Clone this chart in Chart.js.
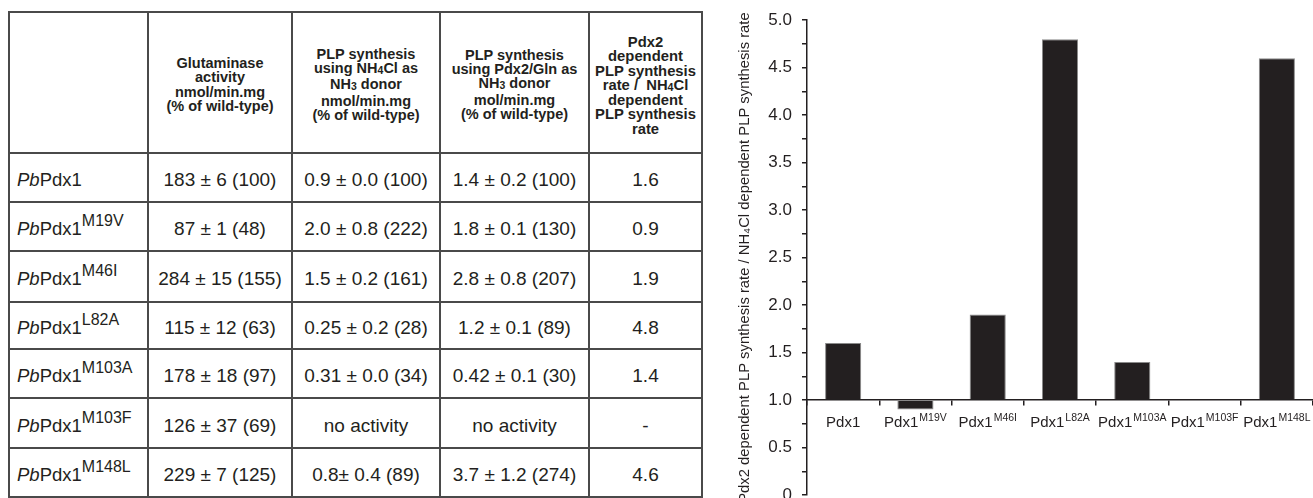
<!DOCTYPE html>
<html>
<head>
<meta charset="utf-8">
<script src="https://cdn.jsdelivr.net/npm/chart.js@4.4.1/dist/chart.umd.min.js"></script>
<style>
  html, body { margin: 0; padding: 0; width: 1313px; height: 498px; overflow: hidden; background: #fff; }
  body { position: relative; font-family: "Liberation Sans", Arial, Helvetica, sans-serif; color: #231f20; }
  .line { position: absolute; background: #4a4a4a; }
  .cell { position: absolute; box-sizing: border-box; display: flex; align-items: center; justify-content: center; text-align: center; }
  .head { font-weight: bold; font-size: 14.5px; line-height: 14.3px; white-space: nowrap; padding-top: 4px; }
  .head.wide { font-size: 14.8px; padding-top: 6px; }
  .data { font-size: 19px; padding-top: 5px; white-space: nowrap; }
  .name { justify-content: flex-start; padding-left: 8px; font-size: 18.5px; }
  .sub { font-size: 0.72em; position: relative; top: 1px; }
  .sup { font-size: 16px; position: relative; top: -9px; }
  #chartBox { position: absolute; left: 720px; top: 0; width: 593px; height: 520px; }
</style>
</head>
<body>
<div id="table"></div>
<div id="chartBox"><canvas id="ratioChart" width="593" height="520"></canvas></div>
<script>
// Pdx1 variants (wild-type first) and their measured activities
const protein = 'Pdx1';
const mutations = ['', 'M19V', 'M46I', 'L82A', 'M103A', 'M103F', 'M148L'];
const glutaminase = ['183 ± 6 (100)', '87 ± 1 (48)', '284 ± 15 (155)', '115 ± 12 (63)', '178 ± 18 (97)', '126 ± 37 (69)', '229 ± 7 (125)'];
const plpNH4Cl = ['0.9 ± 0.0 (100)', '2.0 ± 0.8 (222)', '1.5 ± 0.2 (161)', '0.25 ± 0.2 (28)', '0.31 ± 0.0 (34)', 'no activity', '0.8± 0.4 (89)'];
const plpPdx2 = ['1.4 ± 0.2 (100)', '1.8 ± 0.1 (130)', '2.8 ± 0.8 (207)', '1.2 ± 0.1 (89)', '0.42 ± 0.1 (30)', 'no activity', '3.7 ± 1.2 (274)'];
const rateRatio = [1.6, 0.9, 1.9, 4.8, 1.4, null, 4.6];
const yTicks = [0, 0.5, 1.0, 1.5, 2.0, 2.5, 3.0, 3.5, 4.0, 4.5, 5.0];

const headers = [
  '',
  'Glutaminase<br>activity<br>nmol/min.mg<br>(% of wild-type)',
  'PLP synthesis<br>using NH<span class="sub">4</span>Cl as<br>NH<span class="sub">3</span> donor<br>nmol/min.mg<br>(% of wild-type)',
  'PLP synthesis<br>using Pdx2/Gln as<br>NH<span class="sub">3</span> donor<br>mol/min.mg<br>(% of wild-type)',
  'Pdx2<br>dependent<br>PLP synthesis<br>rate /&nbsp; NH<span class="sub">4</span>Cl<br>dependent<br>PLP synthesis<br>rate'
];

// table grid
const colX = [9, 148, 292, 440, 589, 702];
const rowY = [12, 153, 202, 251, 302, 349, 398, 448, 497];
const table = document.getElementById('table');

function addDiv(cls, style, html) {
  const d = document.createElement('div');
  d.className = cls;
  Object.assign(d.style, style);
  if (html !== undefined) d.innerHTML = html;
  table.appendChild(d);
  return d;
}

function cell(c, r, cls, html) {
  addDiv('cell ' + cls, {
    left: colX[c] + 'px', top: rowY[r] + 'px',
    width: (colX[c + 1] - colX[c]) + 'px', height: (rowY[r + 1] - rowY[r]) + 'px'
  }, '<div>' + html + '</div>');
}

headers.forEach((h, c) => cell(c, 0, c === 4 ? 'head wide' : 'head', h));

mutations.forEach((m, i) => {
  const r = i + 1;
  const name = '<i>Pb</i>' + protein + (m ? '<span class="sup">' + m + '</span>' : '');
  cell(0, r, 'data name', name);
  cell(1, r, 'data', glutaminase[i]);
  cell(2, r, 'data', plpNH4Cl[i]);
  cell(3, r, 'data', plpPdx2[i]);
  cell(4, r, 'data', rateRatio[i] === null ? '-' : rateRatio[i].toFixed(1));
});

rowY.forEach(y => addDiv('line', { left: (colX[0] - 1) + 'px', top: (y - 1) + 'px', width: (colX[5] - colX[0] + 2) + 'px', height: '2px' }));
colX.forEach(x => addDiv('line', { left: (x - 1) + 'px', top: (rowY[0] - 1) + 'px', width: '2px', height: (rowY[8] - rowY[0] + 2) + 'px' }));

// bar chart of the rate ratio, bars rising or falling from 1.0
const family = '"Liberation Sans", Arial, Helvetica, sans-serif';
const ink = '#231f20';

const variantLabels = {
  id: 'variantLabels',
  afterDraw(chart) {
    const { ctx, scales: { x, y } } = chart;
    const base = y.getPixelForValue(1) + 27;
    ctx.save();
    ctx.fillStyle = ink;
    ctx.textBaseline = 'alphabetic';
    ctx.textAlign = 'left';
    mutations.forEach((m, i) => {
      const cx = x.getPixelForValue(i);
      ctx.font = '15px ' + family;
      const w1 = ctx.measureText(protein).width;
      ctx.font = '10.5px ' + family;
      const w2 = m ? ctx.measureText(m).width + 1 : 0;
      const x0 = cx - (w1 + w2) / 2;
      ctx.font = '15px ' + family;
      ctx.fillText(protein, x0, base);
      if (m) {
        ctx.font = '10.5px ' + family;
        ctx.fillText(m, x0 + w1 + 1, base - 6);
      }
    });
    ctx.restore();
  }
};

new Chart(document.getElementById('ratioChart'), {
  type: 'bar',
  data: {
    labels: mutations.map(m => protein + m),
    datasets: [{
      data: rateRatio,
      base: 1,
      backgroundColor: ink,
      borderColor: '#8a8a8a',
      borderWidth: 1,
      barPercentage: 0.5,
      categoryPercentage: 1
    }]
  },
  options: {
    responsive: false,
    animation: false,
    layout: { padding: { top: 16, bottom: 25, left: 0, right: 0 } },
    plugins: { legend: { display: false }, tooltip: { enabled: false } },
    scales: {
      x: {
        position: { y: 1 },
        offset: true,
        grid: { display: true, offset: true, drawOnChartArea: false, drawTicks: true, tickLength: 5, color: ink, lineWidth: 1.5 },
        border: { display: true, color: ink, width: 1.5 },
        ticks: { display: false }
      },
      y: {
        min: 0,
        max: 5,
        afterFit(scale) { scale.width = 87; },
        ticks: {
          stepSize: 0.25,
          autoSkip: false,
          padding: 10,
          color: ink,
          font: { size: 17, family },
          callback: v => yTicks.includes(v) ? (v === 0 ? '0' : v.toFixed(1)) : ''
        },
        grid: { drawOnChartArea: false, drawTicks: true, tickLength: 5, color: ink, lineWidth: 1.5 },
        border: { display: true, color: ink, width: 1.5 },
        title: {
          display: true,
          text: 'Pdx2 dependent PLP synthesis rate / NH\u2084Cl dependent PLP synthesis rate',
          color: ink,
          font: { size: 14.8, family },
          padding: { top: 16, bottom: 0 }
        }
      }
    }
  },
  plugins: [variantLabels]
});
</script>
</body>
</html>
